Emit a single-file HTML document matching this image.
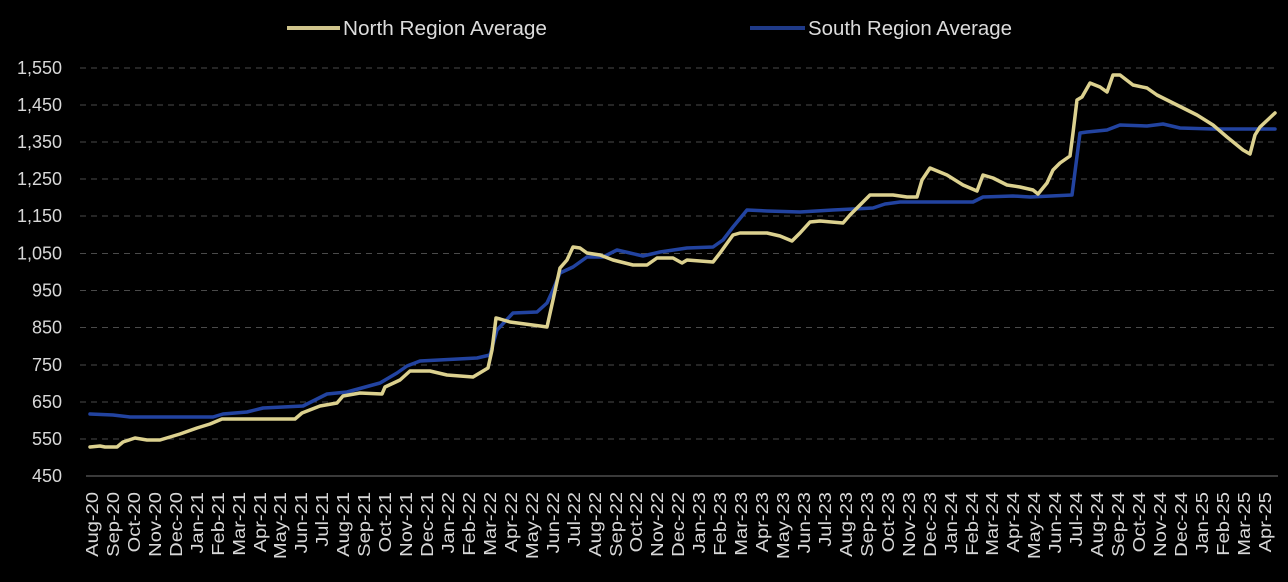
<!DOCTYPE html>
<html>
<head>
<meta charset="utf-8">
<style>
  html, body { margin: 0; padding: 0; background: #000; }
  body { width: 1288px; height: 582px; overflow: hidden; }
  svg { display: block; }
  text { font-family: "Liberation Sans", "DejaVu Sans", sans-serif; }
</style>
</head>
<body>
<svg width="1288" height="582" viewBox="0 0 1288 582" xmlns="http://www.w3.org/2000/svg">
  <rect x="0" y="0" width="1288" height="582" fill="#000"/>

  <!-- Legend -->
  <line x1="287" y1="28" x2="340" y2="28" stroke="#cfc48c" stroke-width="4"/>
  <text x="343" y="35" font-size="20" fill="#dcdcdc" textLength="204" lengthAdjust="spacingAndGlyphs">North Region Average</text>
  <line x1="750" y1="28" x2="805" y2="28" stroke="#1f3a88" stroke-width="4"/>
  <text x="808" y="35" font-size="20" fill="#dcdcdc" textLength="204" lengthAdjust="spacingAndGlyphs">South Region Average</text>

  <!-- Gridlines -->
  <g stroke="#4a4a4a" stroke-width="1" stroke-dasharray="6 5">
    <line x1="80" y1="68" x2="1278" y2="68"/>
    <line x1="80" y1="105" x2="1278" y2="105"/>
    <line x1="80" y1="142" x2="1278" y2="142"/>
    <line x1="80" y1="179" x2="1278" y2="179"/>
    <line x1="80" y1="216" x2="1278" y2="216"/>
    <line x1="80" y1="253.5" x2="1278" y2="253.5"/>
    <line x1="80" y1="290.5" x2="1278" y2="290.5"/>
    <line x1="80" y1="327.5" x2="1278" y2="327.5"/>
    <line x1="80" y1="365" x2="1278" y2="365"/>
    <line x1="80" y1="402" x2="1278" y2="402"/>
    <line x1="80" y1="439" x2="1278" y2="439"/>
  </g>
  <!-- X axis line -->
  <line x1="86" y1="476" x2="1278" y2="476" stroke="#4e4e4e" stroke-width="1.5"/>

  <!-- Y labels -->
  <g font-size="18" fill="#d8d8d8" text-anchor="end">
    <text x="62" y="74">1,550</text>
    <text x="62" y="111">1,450</text>
    <text x="62" y="148">1,350</text>
    <text x="62" y="185">1,250</text>
    <text x="62" y="222">1,150</text>
    <text x="62" y="259.5">1,050</text>
    <text x="62" y="296.5">950</text>
    <text x="62" y="333.5">850</text>
    <text x="62" y="371">750</text>
    <text x="62" y="408">650</text>
    <text x="62" y="445">550</text>
    <text x="62" y="482">450</text>
  </g>

  <!-- South series -->
  <polyline fill="none" stroke="#2243a0" stroke-width="3.5" stroke-linejoin="round" stroke-linecap="round"
    points="90,414 113,415 130,417 213,417 223,414 247,412 263,408 303,406 327,394 347,392 380,383 397,373 407,366 420,361 477,358 490,355 497,330 513,313 537,312 547,303 553,290 560,273 573,267 587,257 603,257 617,250 630,253 643,256 660,252 687,248 713,247 723,240 733,227 747,210 767,211 800,212 833,210 853,209 873,208 885,204 900,202 973,202 983,197 1013,196 1030,197 1072,195 1080,133 1087,132 1107,130 1120,125 1147,126 1163,124 1180,128 1213,129 1275,129"/>

  <!-- North series -->
  <polyline fill="none" stroke="#dcd18f" stroke-width="3.5" stroke-linejoin="round" stroke-linecap="round"
    points="90,447 100,446 105,447 117,447 123,442 135,438 147,440 160,440 180,434 197,428 210,424 222,419 295,419 302,413 320,406 337,403 343,396 360,393 382,394 385,387 400,380 410,371 430,371 447,375 473,377 488,368 492,350 496,318 500,319 510,322 540,326 547,327 553,300 560,268 567,260 573,247 580,248 587,253 600,255 613,260 633,265 647,265 657,258 673,258 682,263 687,260 713,262 720,253 733,235 740,233 767,233 780,236 792,241 800,233 810,222 820,221 843,223 850,215 860,205 870,195 893,195 907,197 917,197 922,180 930,168 947,175 963,185 977,191 983,175 993,178 1007,185 1020,187 1033,190 1038,194 1047,183 1053,170 1060,163 1070,156 1073,133 1077,100 1082,97 1090,83 1100,87 1107,92 1113,75 1120,75 1133,85 1147,88 1157,95 1173,103 1197,115 1213,125 1227,137 1243,150 1250,154 1255,135 1260,127 1275,113"/>

  <!-- X labels -->
  <g font-size="17.5" fill="#d8d8d8" text-anchor="end">
    <text transform="translate(98,492) rotate(-90) scale(1.15,1)">Aug-20</text>
    <text transform="translate(119,492) rotate(-90) scale(1.15,1)">Sep-20</text>
    <text transform="translate(140,492) rotate(-90) scale(1.15,1)">Oct-20</text>
    <text transform="translate(161,492) rotate(-90) scale(1.15,1)">Nov-20</text>
    <text transform="translate(182,492) rotate(-90) scale(1.15,1)">Dec-20</text>
    <text transform="translate(203,492) rotate(-90) scale(1.15,1)">Jan-21</text>
    <text transform="translate(224,492) rotate(-90) scale(1.15,1)">Feb-21</text>
    <text transform="translate(245,492) rotate(-90) scale(1.15,1)">Mar-21</text>
    <text transform="translate(266,492) rotate(-90) scale(1.15,1)">Apr-21</text>
    <text transform="translate(286,492) rotate(-90) scale(1.15,1)">May-21</text>
    <text transform="translate(307,492) rotate(-90) scale(1.15,1)">Jun-21</text>
    <text transform="translate(328,492) rotate(-90) scale(1.15,1)">Jul-21</text>
    <text transform="translate(349,492) rotate(-90) scale(1.15,1)">Aug-21</text>
    <text transform="translate(370,492) rotate(-90) scale(1.15,1)">Sep-21</text>
    <text transform="translate(391,492) rotate(-90) scale(1.15,1)">Oct-21</text>
    <text transform="translate(412,492) rotate(-90) scale(1.15,1)">Nov-21</text>
    <text transform="translate(433,492) rotate(-90) scale(1.15,1)">Dec-21</text>
    <text transform="translate(454,492) rotate(-90) scale(1.15,1)">Jan-22</text>
    <text transform="translate(475,492) rotate(-90) scale(1.15,1)">Feb-22</text>
    <text transform="translate(496,492) rotate(-90) scale(1.15,1)">Mar-22</text>
    <text transform="translate(517,492) rotate(-90) scale(1.15,1)">Apr-22</text>
    <text transform="translate(538,492) rotate(-90) scale(1.15,1)">May-22</text>
    <text transform="translate(559,492) rotate(-90) scale(1.15,1)">Jun-22</text>
    <text transform="translate(580,492) rotate(-90) scale(1.15,1)">Jul-22</text>
    <text transform="translate(601,492) rotate(-90) scale(1.15,1)">Aug-22</text>
    <text transform="translate(622,492) rotate(-90) scale(1.15,1)">Sep-22</text>
    <text transform="translate(642,492) rotate(-90) scale(1.15,1)">Oct-22</text>
    <text transform="translate(663,492) rotate(-90) scale(1.15,1)">Nov-22</text>
    <text transform="translate(684,492) rotate(-90) scale(1.15,1)">Dec-22</text>
    <text transform="translate(705,492) rotate(-90) scale(1.15,1)">Jan-23</text>
    <text transform="translate(726,492) rotate(-90) scale(1.15,1)">Feb-23</text>
    <text transform="translate(747,492) rotate(-90) scale(1.15,1)">Mar-23</text>
    <text transform="translate(768,492) rotate(-90) scale(1.15,1)">Apr-23</text>
    <text transform="translate(789,492) rotate(-90) scale(1.15,1)">May-23</text>
    <text transform="translate(810,492) rotate(-90) scale(1.15,1)">Jun-23</text>
    <text transform="translate(831,492) rotate(-90) scale(1.15,1)">Jul-23</text>
    <text transform="translate(852,492) rotate(-90) scale(1.15,1)">Aug-23</text>
    <text transform="translate(873,492) rotate(-90) scale(1.15,1)">Sep-23</text>
    <text transform="translate(894,492) rotate(-90) scale(1.15,1)">Oct-23</text>
    <text transform="translate(915,492) rotate(-90) scale(1.15,1)">Nov-23</text>
    <text transform="translate(936,492) rotate(-90) scale(1.15,1)">Dec-23</text>
    <text transform="translate(957,492) rotate(-90) scale(1.15,1)">Jan-24</text>
    <text transform="translate(978,492) rotate(-90) scale(1.15,1)">Feb-24</text>
    <text transform="translate(998,492) rotate(-90) scale(1.15,1)">Mar-24</text>
    <text transform="translate(1019,492) rotate(-90) scale(1.15,1)">Apr-24</text>
    <text transform="translate(1040,492) rotate(-90) scale(1.15,1)">May-24</text>
    <text transform="translate(1061,492) rotate(-90) scale(1.15,1)">Jun-24</text>
    <text transform="translate(1082,492) rotate(-90) scale(1.15,1)">Jul-24</text>
    <text transform="translate(1103,492) rotate(-90) scale(1.15,1)">Aug-24</text>
    <text transform="translate(1124,492) rotate(-90) scale(1.15,1)">Sep-24</text>
    <text transform="translate(1145,492) rotate(-90) scale(1.15,1)">Oct-24</text>
    <text transform="translate(1166,492) rotate(-90) scale(1.15,1)">Nov-24</text>
    <text transform="translate(1187,492) rotate(-90) scale(1.15,1)">Dec-24</text>
    <text transform="translate(1208,492) rotate(-90) scale(1.15,1)">Jan-25</text>
    <text transform="translate(1229,492) rotate(-90) scale(1.15,1)">Feb-25</text>
    <text transform="translate(1250,492) rotate(-90) scale(1.15,1)">Mar-25</text>
    <text transform="translate(1271,492) rotate(-90) scale(1.15,1)">Apr-25</text>
  </g>
</svg>
</body>
</html>
